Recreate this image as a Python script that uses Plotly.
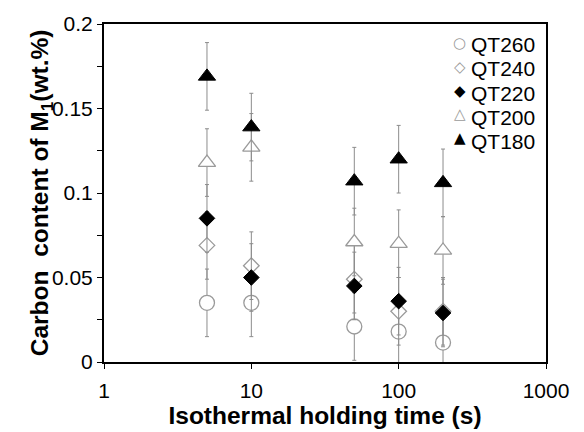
import plotly.graph_objects as go

# Isothermal holding times (s)
hold_time = [5, 10, 50, 100, 200]

# Carbon content of M1 (wt.%) for each quench temperature
qt260 = [0.035, 0.035, 0.021, 0.018, 0.0115]
qt240 = [0.069, 0.057, 0.049, 0.030, 0.030]
qt220 = [0.085, 0.050, 0.045, 0.036, 0.029]
qt200 = [0.118, 0.127, 0.071, 0.070, 0.066]
qt180 = [0.169, 0.139, 0.107, 0.120, 0.106]

# Measurement uncertainty (wt.%)
err = [0.02, 0.02, 0.02, 0.02, 0.02]

series_names = ["QT260", "QT240", "QT220", "QT200", "QT180"]
series_values = [qt260, qt240, qt220, qt200, qt180]
legend_glyphs = ["○", "◇", "◆", "△", "▲"]

GREY = "#8c8c8c"
OPEN = "#9a9a9a"
styles = {
    "QT260": dict(symbol="circle", size=15, color="white", line=dict(color=OPEN, width=1.3)),
    "QT240": dict(symbol="diamond", size=12, color="white", line=dict(color=OPEN, width=1.3)),
    "QT220": dict(symbol="diamond", size=12, color="black", line=dict(color="black", width=1)),
    "QT200": dict(symbol="triangle-up", size=15, color="white", line=dict(color=OPEN, width=1.3)),
    "QT180": dict(symbol="triangle-up", size=15, color="black", line=dict(color="black", width=1)),
}
glyph_colors = {"QT260": OPEN, "QT240": OPEN, "QT220": "black", "QT200": OPEN, "QT180": "black"}

fig = go.Figure()
for name, vals in zip(series_names, series_values):
    fig.add_trace(go.Scatter(
        x=hold_time, y=vals, name=name, mode="markers",
        marker=styles[name],
        error_y=dict(type="data", array=err, visible=True,
                     color=GREY, thickness=1, width=2),
        showlegend=False,
    ))

font_family = "Arial, Liberation Sans, sans-serif"

# Compact legend in the upper-right corner: one symbol per entry,
# entry names stacked in a single block with tight line spacing
plot_top_px, plot_h_px = 15, 347
block_font = 18.7
line_px = block_font * 1.3
first_center_px = 83.5 - 2 * line_px
annotations = []
for i, name in enumerate(series_names):
    yc = first_center_px + i * line_px
    annotations.append(dict(
        xref="paper", yref="paper", x=0.805,
        y=1 - (yc - plot_top_px) / plot_h_px,
        xanchor="center", yanchor="middle",
        text=legend_glyphs[i], showarrow=False,
        font=dict(family="DejaVu Sans", size=15, color=glyph_colors[name]),
    ))
annotations.append(dict(
    xref="paper", yref="paper", x=0.826,
    y=1 - (first_center_px - 12.5 - plot_top_px) / plot_h_px,
    xanchor="left", yanchor="top", align="left",
    text="<br>".join(f'<span style="font-size:21px">{n}</span>' for n in series_names),
    showarrow=False,
    font=dict(family=font_family, size=block_font, color="black"),
))

# Y-axis title sits close to the tick labels
annotations.append(dict(
    xref="paper", yref="paper", x=-0.142, y=0.5, xanchor="center", yanchor="middle",
    text="<b>Carbon  content of M<sub>1</sub>(wt.%)</b>", textangle=-90, showarrow=False,
    font=dict(family=font_family, size=24.5, color="black"),
))

fig.update_layout(
    width=584, height=432,
    margin=dict(l=104, r=38, t=15, b=70),
    paper_bgcolor="white", plot_bgcolor="white",
    font=dict(family=font_family, size=21, color="black"),
    showlegend=False,
    annotations=annotations,
)

fig.update_xaxes(
    type="log", range=[0, 3],
    tickvals=[1, 10, 100, 1000], ticktext=["1", "10", "100", "1000"],
    ticks="outside", ticklen=5, tickwidth=1, tickcolor="black",
    showline=True, linecolor="black", linewidth=2, mirror=True,
    showgrid=False, zeroline=False,
    tickfont=dict(size=21), ticklabelstandoff=4,
    title=dict(text="<b>Isothermal holding time (s)</b>", font=dict(size=24.5), standoff=0),
)

fig.update_yaxes(
    range=[0, 0.2],
    tickvals=[0, 0.05, 0.1, 0.15, 0.2], ticktext=["0", "0.05", "0.1", "0.15", "0.2"],
    ticks="outside", ticklen=5, tickwidth=1, tickcolor="black",
    minor=dict(tickvals=[0.025, 0.075, 0.125, 0.175], ticks="outside",
               ticklen=5, tickwidth=1, tickcolor="black", showgrid=False),
    showline=True, linecolor="black", linewidth=2, mirror=True,
    showgrid=False, zeroline=False,
    tickfont=dict(size=21),
)

fig.write_html("out.html")
